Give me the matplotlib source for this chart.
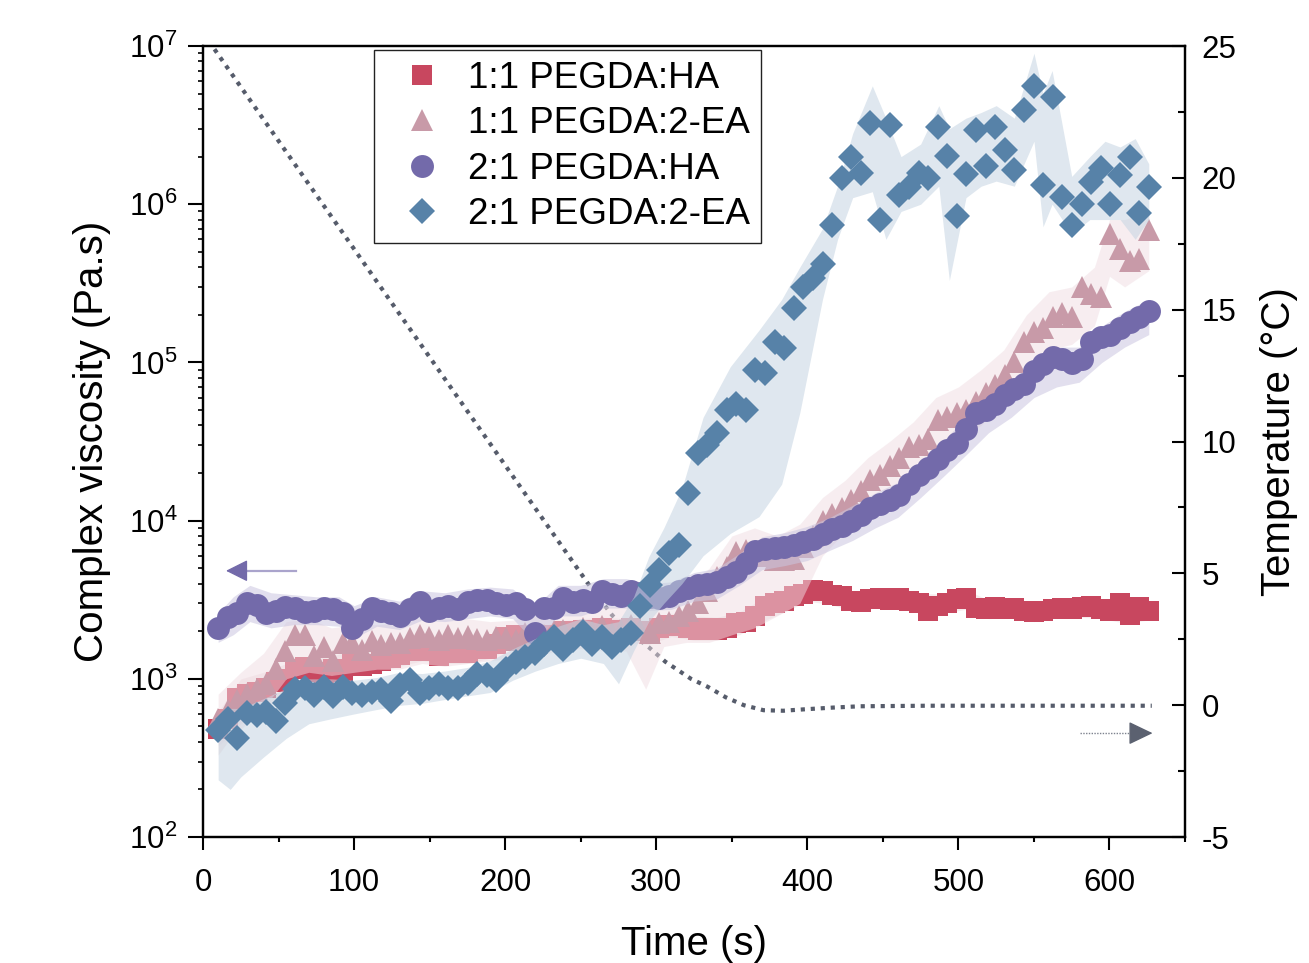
import numpy as np
import matplotlib
matplotlib.use('Agg')
import matplotlib.pyplot as plt
from matplotlib.ticker import MultipleLocator, LogLocator, NullFormatter

plt.rcParams['font.family'] = ['Liberation Sans', 'DejaVu Sans']
plt.rcParams['axes.unicode_minus'] = False

# sampling times of the rheometer (s)
time_s = [10.0, 16.4, 22.7, 29.1, 35.4, 41.8, 48.1, 54.5, 60.8, 67.2,
          73.5, 79.9, 86.2, 92.6, 98.9, 105.3, 111.6, 118.0, 124.3, 130.7,
          137.0, 143.4, 149.7, 156.1, 162.4, 168.8, 175.1, 181.5, 187.8, 194.2,
          200.5, 206.9, 213.2, 219.6, 225.9, 232.3, 238.6, 245.0, 251.3, 257.7,
          264.0, 270.4, 276.7, 283.1, 289.4, 295.8, 302.1, 308.5, 314.8, 321.2,
          327.5, 333.9, 340.2, 346.6, 352.9, 359.3, 365.6, 372.0, 378.3, 384.7,
          391.0, 397.4, 403.7, 410.1, 416.4, 422.8, 429.1, 435.5, 441.8, 448.2,
          454.5, 460.9, 467.2, 473.6, 479.9, 486.3, 492.6, 499.0, 505.3, 511.7,
          518.0, 524.4, 530.7, 537.1, 543.4, 549.8, 556.1, 562.5, 568.8, 575.2,
          581.5, 587.9, 594.2, 600.6, 606.9, 613.3, 619.6, 626.0]

# complex viscosity (Pa.s)
visc_11_ha = [480, 560, 760, 800, 820, 880, 950, 1000, 1150, 1180,
              1100, 1080, 1150, 1100, 1260, 1200, 1250, 1300, 1350, 1420,
              1500, 1600, 1500, 1400, 1450, 1500, 1450, 1550, 1550, 1650,
              1850, 1900, 1700, 1800, 1850, 1900, 2000, 1950, 2050, 2000,
              2100, 2050, 2000, 2100, 2000, 1950, 2100, 2200, 2150, 2100,
              2050, 2100, 2050, 2100, 2250, 2300, 2500, 2900, 3000, 3100,
              3350, 3450, 3650, 3600, 3400, 3350, 3100, 3050, 3200, 3250,
              3150, 3250, 3100, 3000, 2700, 2900, 3000, 3200, 3250, 2800,
              2750, 2850, 2750, 2800, 2700, 2650, 2700, 2750, 2800, 2750,
              2850, 2900, 2750, 2700, 3000, 2550, 2850, 2700]

visc_11_ea = [560, 640, 740, 800, 860, 930, 1150, 1500, 1880, 1900,
              1400, 1600, 1300, 1680, 1680, 1520, 1730, 1640, 1680, 1680,
              1800, 1890, 1850, 1760, 1900, 1820, 1870, 1780, 1750, 1850,
              1800, 1750, 1950, 1850, 1900, 2000, 2050, 1900, 2100, 2000,
              2150, 1950, 2050, 2200, 2050, 1950, 2250, 2300, 2500, 2700,
              3000, 3600, 4400, 5100, 6300, 6500, 6200, 6000, 5600, 5600,
              5700, 6800, 8000, 10000, 11000, 12000, 13600, 15500, 18000, 19500,
              22000, 25000, 29000, 30000, 33000, 43000, 45000, 48000, 50000, 56000,
              64000, 72000, 83000, 100000, 135000, 155000, 165000, 195000, 205000, 195000,
              300000, 270000, 260000, 650000, 520000, 440000, 450000, 690000]

visc_21_ha = [2100, 2450, 2600, 3000, 2950, 2600, 2700, 2850, 2800, 2650,
              2700, 2800, 2750, 2600, 2100, 2400, 2800, 2700, 2600, 2500,
              2750, 3050, 2700, 2800, 2900, 2750, 3050, 3150, 3150, 3000,
              2950, 3000, 2750, 1950, 2800, 2800, 3250, 3050, 3150, 3050,
              3600, 3450, 3350, 3600, 3500, 3300, 3250, 3350, 3600, 3750,
              3900, 4000, 4100, 4400, 4750, 5400, 6400, 6600, 6700, 6800,
              7000, 7300, 7600, 8200, 8800, 9300, 10000, 10800, 12000, 12800,
              13500, 14500, 17000, 19500, 21500, 24500, 28000, 31000, 38000, 48000,
              50000, 55000, 62000, 68000, 73000, 88000, 98000, 109000, 105000, 99000,
              105000, 135000, 145000, 150000, 164000, 180000, 195000, 210000]

visc_21_ea = [475, 555, 420, 610, 595, 620, 540, 700, 860, 870,
              790, 890, 775, 890, 810, 790, 830, 850, 720, 910,
              980, 810, 870, 930, 870, 880, 940, 1080, 1050, 980,
              1160, 1280, 1380, 1450, 1670, 1850, 1550, 1770, 1980, 1670,
              1850, 1600, 1770, 1940, 2900, 3900, 4900, 6200, 7000, 14900,
              26600, 30000, 35600, 50000, 55000, 50000, 89000, 86000, 135000, 124000,
              220000, 300000, 340000, 420000, 740000, 1460000, 2000000, 1570000, 3270000, 790000,
              3160000, 1140000, 1290000, 1570000, 1460000, 3090000, 2020000, 840000, 1550000, 2940000,
              1740000, 3090000, 2200000, 1640000, 3940000, 5590000, 1320000, 4780000, 1110000, 740000,
              1010000, 1390000, 1690000, 1010000, 1530000, 2000000, 875000, 1290000]

# spread bands (lower / upper bound)
band_11_ha_t = [10, 25, 40, 55, 70, 85, 100, 115, 130, 145, 160, 175, 190, 205,
                220, 235, 250, 265, 280, 295, 310, 325, 340, 355, 370, 385, 400,
                415, 430, 445, 460, 475, 490, 505, 520, 535, 550, 565, 580, 595,
                610, 626]
band_11_ha_lo = [330, 520, 650, 800, 900, 950, 1050, 1100, 1200, 1300, 1250, 1250,
                 1350, 1600, 1550, 1650, 1750, 1750, 1700, 1650, 1850, 1750, 1750,
                 1900, 2300, 2650, 3100, 2950, 2700, 2800, 2800, 2600, 2600, 2750,
                 2400, 2450, 2300, 2450, 2450, 2400, 2250, 2350]
band_11_ha_hi = [620, 1000, 1100, 1250, 1350, 1400, 1500, 1550, 1700, 1850, 1750,
                 1750, 1900, 2200, 2100, 2300, 2400, 2450, 2400, 2300, 2600, 2500,
                 2450, 2650, 3200, 3600, 4100, 3900, 3550, 3700, 3700, 3450, 3450,
                 3650, 3150, 3200, 3050, 3200, 3250, 3150, 3000, 3100]

band_11_ea_t = [10, 25, 40, 55, 70, 85, 100, 115, 130, 145, 160, 175, 190, 205,
                220, 235, 250, 265, 280, 293, 305, 320, 335, 350, 365, 380, 395,
                410, 425, 440, 455, 470, 485, 500, 515, 530, 545, 560, 575, 590,
                600, 610, 626]
band_11_ea_lo = [380, 480, 650, 1000, 1100, 1050, 1100, 1150, 1150, 1250, 1200,
                 1250, 1300, 1350, 1400, 1500, 1550, 1500, 1500, 860, 1600, 1700,
                 1700, 1900, 2100, 2500, 3000, 6000, 8500, 11500, 15000, 20000,
                 25000, 32000, 40000, 55000, 85000, 120000, 130000, 170000,
                 350000, 300000, 380000]
band_11_ea_hi = [800, 1100, 1450, 2300, 2400, 2100, 2200, 2200, 2250, 2450, 2400,
                 2400, 2300, 2350, 2500, 2700, 2800, 2850, 2900, 2800, 3100, 3700,
                 5000, 8000, 9000, 8000, 9500, 14000, 18000, 25000, 32000, 42000,
                 60000, 70000, 90000, 120000, 200000, 280000, 300000, 400000,
                 800000, 800000, 900000]

band_21_ha_t = [10, 20, 31, 45, 60, 75, 90, 100, 115, 130, 145, 160, 175, 190,
                205, 220, 235, 250, 265, 280, 295, 310, 325, 340, 355, 370, 385,
                400, 415, 430, 445, 460, 475, 490, 505, 520, 535, 550, 565, 580,
                595, 610, 626]
band_21_ha_lo = [1700, 1900, 2300, 2100, 2200, 2200, 2150, 1800, 2150, 2050, 2350,
                 2300, 2400, 2500, 2400, 1700, 2500, 2500, 2800, 2800, 2700, 2750,
                 3100, 3200, 3900, 4900, 5200, 5600, 6500, 7500, 9000, 10500,
                 14000, 19000, 26000, 36000, 45000, 60000, 70000, 75000, 100000,
                 125000, 150000]
band_21_ha_hi = [2600, 3300, 3900, 3500, 3400, 3300, 3300, 2900, 3300, 3100, 3600,
                 3500, 3700, 3800, 3700, 2900, 3900, 3900, 4300, 4300, 4000, 4100,
                 4700, 5000, 6200, 7900, 8400, 9200, 10500, 12500, 15000, 17500,
                 23000, 32000, 45000, 60000, 76000, 100000, 125000, 125000, 170000,
                 210000, 250000]

band_21_ea_t = [10, 18, 25, 40, 55, 70, 85, 100, 115, 130, 145, 160, 175, 190,
                205, 220, 235, 250, 265, 275, 285, 295, 305, 317, 331, 349, 368,
                383, 395, 410, 420, 430, 443, 452, 462, 475, 487, 494, 505, 515,
                525, 537, 550, 556, 562, 575, 587, 597, 607, 617, 626]
band_21_ea_lo = [230, 200, 240, 320, 420, 520, 560, 600, 640, 680, 700, 740, 780,
                 820, 980, 1120, 1250, 1350, 1250, 930, 1500, 2300, 3000, 4000,
                 6000, 8300, 10600, 17000, 48000, 250000, 600000, 1100000, 1200000,
                 600000, 900000, 1000000, 1300000, 330000, 1100000, 1300000,
                 1400000, 1300000, 2500000, 720000, 1000000, 650000, 800000,
                 800000, 800000, 600000, 800000]
band_21_ea_hi = [560, 650, 650, 750, 870, 1000, 1000, 980, 1020, 1100, 1080, 1120,
                 1180, 1300, 1550, 1800, 2150, 2400, 2200, 2300, 3300, 5900, 9000,
                 16000, 45000, 94000, 160000, 250000, 400000, 700000, 1300000,
                 2800000, 5600000, 3500000, 2000000, 2400000, 4200000, 3000000,
                 3500000, 3800000, 4200000, 3500000, 9000000, 5000000, 7000000,
                 1500000, 2000000, 2500000, 2300000, 2600000, 1800000]

# temperature ramp (deg C)
temp_t = [0, 100, 200, 255, 271, 285, 295, 306, 323, 334, 346, 358, 371, 384,
          397, 417, 435, 480, 628]
temp_c = [25.5, 17.3, 9.1, 4.6, 3.4, 2.65, 2.2, 1.65, 1.0, 0.7, 0.3, 0.0, -0.19,
          -0.21, -0.16, -0.09, -0.04, -0.02, -0.02]

labels = ['1:1 PEGDA:HA', '1:1 PEGDA:2-EA', '2:1 PEGDA:HA', '2:1 PEGDA:2-EA']


def main():
    fig = plt.figure(figsize=(13.09, 9.63), dpi=100)
    ax = fig.add_axes([0.1551, 0.1308, 0.7502, 0.8214])
    ax2 = ax.twinx()
    ax.set_zorder(ax2.get_zorder() + 1)
    ax.patch.set_visible(False)

    # temperature on right axis, under the viscosity data
    ax2.plot(temp_t, temp_c, color='#565c6b', lw=3, ls=(0, (1, 1.4)))

    series = [
        (visc_11_ha, band_11_ha_t, band_11_ha_lo, band_11_ha_hi, 's', 15, '#c8475f', '#eed9dd', 0.5),
        (visc_11_ea, band_11_ea_t, band_11_ea_lo, band_11_ea_hi, '^', 16.5, '#c89aa8', '#f0dde3', 0.5),
        (visc_21_ha, band_21_ha_t, band_21_ha_lo, band_21_ha_hi, 'o', 16.5, '#736aaa', '#cbc6e0', 0.55),
        (visc_21_ea, band_21_ea_t, band_21_ea_lo, band_21_ea_hi, 'D', 13, '#5782a8', '#c5d4e2', 0.55),
    ]
    for k, (vals, bt, lo, hi, mk, ms, col, bcol, alp) in enumerate(series):
        ax.fill_between(bt, lo, hi, color=bcol, alpha=alp, lw=0, zorder=2 + 2 * k)
        ax.plot(time_s, vals, ls='none', marker=mk, ms=ms, mew=0, color=col,
                label=labels[k], zorder=3 + 2 * k)

    ax.set_yscale('log')
    ax.set_ylim(1e2, 1e7)
    ax.set_xlim(0, 650)
    ax.xaxis.set_major_locator(MultipleLocator(100))
    ax.xaxis.set_minor_locator(MultipleLocator(50))
    ax.yaxis.set_minor_locator(LogLocator(base=10, subs=np.arange(2, 10) * 1.0, numticks=20))
    ax.yaxis.set_minor_formatter(NullFormatter())

    ax.tick_params(axis='x', which='major', direction='out', length=9, width=1.5,
                   labelsize=22.5, pad=13, top=False)
    ax.tick_params(axis='x', which='minor', direction='out', length=3.6, width=1.5, top=False)
    ax.tick_params(axis='y', which='major', direction='out', length=10.5, width=1.5,
                   labelsize=22.5, pad=8, right=False)
    ax.tick_params(axis='y', which='minor', direction='out', length=3.6, width=1.2, right=False)

    ax2.set_ylim(-5, 25)
    ax2.yaxis.set_major_locator(MultipleLocator(5))
    ax2.yaxis.set_minor_locator(MultipleLocator(2.5))
    ax2.tick_params(axis='y', which='major', direction='in', length=9.5, width=1.5,
                    labelsize=22.5, pad=12)
    ax2.tick_params(axis='y', which='minor', direction='in', length=5, width=1.5)

    for a in (ax, ax2):
        for s in a.spines.values():
            s.set_linewidth(1.6)

    ax.set_xlabel('Time (s)', fontsize=29, labelpad=20)
    ax.set_ylabel('Complex viscosity (Pa.s)', fontsize=29, labelpad=13)
    ax2.set_ylabel('Temperature (°C)', fontsize=29, labelpad=17)

    # axis arrows
    ax.plot([27.8, 61.6], [4820, 4820], color='#aaa4cc', lw=1.6, zorder=12)
    ax.annotate('', xy=(15.2, 4820), xytext=(27.8, 4820), zorder=12,
                arrowprops=dict(arrowstyle='-|>,head_length=0.68,head_width=0.34',
                                color='#736aaa', lw=1, mutation_scale=20,
                                shrinkA=0, shrinkB=0))
    ax2.plot([580.8, 614.6], [-1.06, -1.06], color='#7d828e', lw=1, ls=(0, (1, 1)))
    ax2.annotate('', xy=(628.5, -1.06), xytext=(614.6, -1.06),
                 arrowprops=dict(arrowstyle='-|>,head_length=0.75,head_width=0.36',
                                 color='#5b6170', lw=1, mutation_scale=20,
                                 shrinkA=0, shrinkB=0))

    leg = ax.legend(loc='upper left', bbox_to_anchor=(0.174, 0.995), borderaxespad=0,
                    fontsize=26.5, frameon=True, fancybox=False, edgecolor='#222222',
                    framealpha=1, labelspacing=0.28, handletextpad=0.25,
                    handlelength=2.0, borderpad=0.3)
    leg.get_frame().set_linewidth(1.0)
    leg.set_zorder(20)

    fig.savefig('out.png', dpi=100)


if __name__ == '__main__':
    main()
